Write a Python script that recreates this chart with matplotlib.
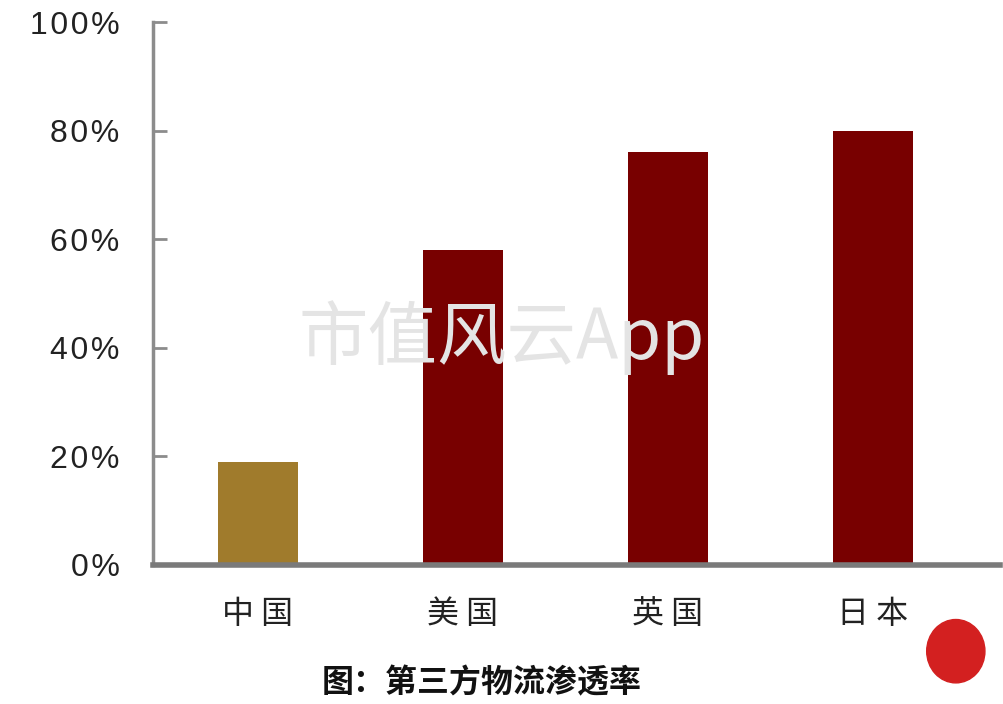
import matplotlib
matplotlib.use("Agg")
import matplotlib.pyplot as plt
from matplotlib.patches import Ellipse

plt.rcParams['font.family'] = ['Noto Sans CJK SC', 'DejaVu Sans']

# 数据
countries = ['中国', '美国', '英国', '日本']
penetration = [19, 58, 76, 80]
bar_colors = ['#A07B2C', '#780000', '#780000', '#780000']
yticks = [0, 20, 40, 60, 80, 100]

fig = plt.figure(figsize=(10.04, 7.04), dpi=100)
ax = fig.add_axes([153 / 1004, 1 - 565 / 704, 847 / 1004, 543 / 704])

x = list(range(len(countries)))
ax.bar(x, penetration, width=0.39, color=bar_colors, zorder=2)

ax.set_xlim(-0.51, 3.62)
ax.set_ylim(0, 100)

for s in ['top', 'right']:
    ax.spines[s].set_visible(False)
ax.spines['left'].set_color('#8c8c8c')
ax.spines['left'].set_linewidth(2.5)
ax.spines['bottom'].set_color('#7a7a7a')
ax.spines['bottom'].set_linewidth(4)

# 刻度标签字距稍宽
ylabels = ['\u200a'.join(f'{v}%') for v in yticks]
ax.set_yticks(yticks)
ax.set_yticklabels(ylabels, family=['Liberation Sans', 'DejaVu Sans'],
                   fontsize=23, color='#222222')
ax.tick_params(axis='y', direction='in', length=10, width=2, color='#8c8c8c', pad=24)

ax.set_xticks(x)
ax.set_xticklabels([' '.join(c) for c in countries], fontsize=23, color='#222222')
ax.tick_params(axis='x', length=0, pad=24)

# 水印
fig.text(0.5, 0.52, '市值风云App', fontsize=50, color='#e4e4e4',
         ha='center', va='center', zorder=0)

# 标题
fig.text(0.48, 0.03, '图：第三方物流渗透率', fontsize=23, fontweight='bold',
         color='#111111', ha='center', va='center')

# 印章
seal = Ellipse((0.952, 0.075), 0.058, 0.09, transform=fig.transFigure,
               color='#d32020', zorder=5)
fig.patches.append(seal)

fig.savefig('out.png', dpi=100)
